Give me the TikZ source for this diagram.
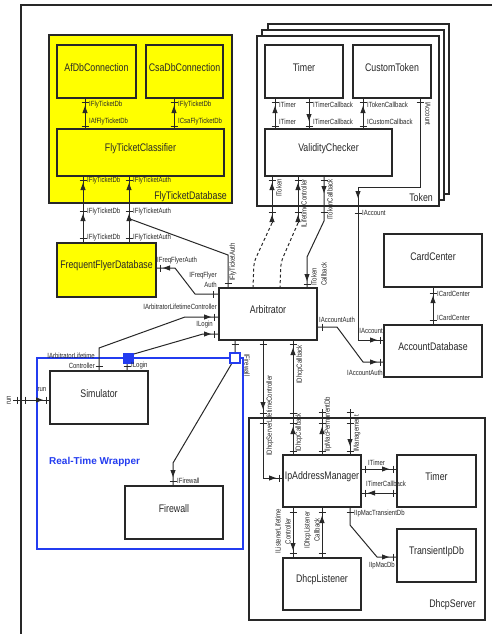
\documentclass[tikz,border=0pt]{standalone}
\usepackage{fontspec}
\setmainfont{Liberation Sans}
\newfontfamily\narrowf[FakeStretch=0.8]{Liberation Sans}
\usetikzlibrary{fit}
\definecolor{lc}{RGB}{40,40,40}
\definecolor{wblue}{RGB}{35,60,240}
\definecolor{yel}{RGB}{255,255,0}
\newcommand\tkv[2]{\draw[tk] (#1-3.5,#2) -- (#1+3.5,#2);}
\newcommand\tkh[2]{\draw[tk] (#1,#2-3.5) -- (#1,#2+3.5);}
\newcommand\arU[2]{\fill[lc] (#1,#2) -- (#1-2.6,#2+7) -- (#1+2.6,#2+7) -- cycle;}
\newcommand\arD[2]{\fill[lc] (#1,#2) -- (#1-2.6,#2-7) -- (#1+2.6,#2-7) -- cycle;}
\newcommand\arR[2]{\fill[lc] (#1,#2) -- (#1-7,#2-2.6) -- (#1-7,#2+2.6) -- cycle;}
\newcommand\arL[2]{\fill[lc] (#1,#2) -- (#1+7,#2-2.6) -- (#1+7,#2+2.6) -- cycle;}
\begin{document}
\begin{tikzpicture}[x=1pt,y=-1pt,
 box/.style={draw=lc,line width=1.35pt,inner sep=0pt,font=\narrowf\fontsize{11}{13}\selectfont,text=lc},
 con/.style={draw=lc,line width=1pt},
 tk/.style={draw=lc,line width=1pt},
 lab/.style={inner sep=0pt,font=\narrowf\fontsize{7.5}{10}\selectfont,text=lc},
 dsh/.style={con,dash pattern=on 3pt off 2.5pt},
 big/.style={inner sep=0pt,font=\narrowf\fontsize{11}{13}\selectfont,text=lc}]
\useasboundingbox (0,0) rectangle (492,634);
\clip (0,0) rectangle (492,634);
\fill[white] (0,0) rectangle (492,634);
\node[draw=lc,line width=1.3pt,inner sep=0pt,fit={(21,5)(530,660)}] (sys) {};

% ---------- FlyTicketDatabase ----------
\node[box,fill=yel,fit={(49,35)(232,203)}] (ftdb) {};
\node[big,anchor=base east] (ftdbl) at (227,199) {FlyTicketDatabase};
\node[box,fill=yel,fit={(57,45)(136,98)}] (afdb) {AfDbConnection};
\node[box,fill=yel,fit={(146,45)(223,98)}] (csadb) {CsaDbConnection};
\node[box,fill=yel,fit={(57,129)(224,176)}] (ftc) {FlyTicketClassifier};
\node[box,fill=yel,fit={(57,243)(156,297)}] (ffd) {FrequentFlyerDatabase};

% ---------- Token stack ----------
\node[box,fill=white,fit={(268,24)(449,194)}] (tok3) {};
\node[box,fill=white,fit={(262,30)(444,200)}] (tok2) {};
\node[box,fill=white,fit={(257,36)(439,206)}] (tok) {};
\node[big,anchor=base east] (tokl) at (433,201) {Token};
\node[box,fit={(265,45)(343,98)}] (timer) {Timer};
\node[box,fit={(353,45)(431,98)}] (ctok) {CustomToken};
\node[box,fit={(265,129)(392,176)}] (vc) {ValidityChecker};

% ---------- middle ----------
\node[box,fit={(219,288)(317,340)}] (arb) {Arbitrator};
\node[box,fit={(384,234)(482,287)}] (cc) {CardCenter};
\node[box,fit={(384,325)(482,377)}] (adb) {AccountDatabase};

% ---------- Real-Time Wrapper ----------
\node[draw=wblue,line width=1.3pt,inner sep=0pt,fit={(37,358)(243,549)}] (rtw) {};
\node[inner sep=0pt,text=wblue,font=\bfseries\fontsize{10}{12}\selectfont,anchor=base west] (rtwl) at (49,464.5) {Real-Time Wrapper};
\node[box,fit={(50,371)(148,424)}] (sim) {Simulator};
\node[box,fit={(125,486)(223,539)}] (fw) {Firewall};

% ---------- DhcpServer ----------
\node[box,fit={(249,418)(485,620)}] (dhs) {};
\node[big,anchor=base east] (dhsl) at (476,607) {DhcpServer};
\node[box,fit={(283,455)(361,507)}] (ipam) {IpAddressManager};
\node[box,fit={(397,455)(476,507)}] (tim2) {Timer};
\node[box,fit={(397,529)(476,582)}] (tip) {TransientIpDb};
\node[box,fit={(283,558)(361,610)}] (dl) {DhcpListener};

% ---------- connectors: FlyTicketDatabase ----------
\draw[con] (85,0 |- afdb.south) -- (85,0 |- ftc.north);
\tkv{85}{102}\tkv{85}{126}\arU{85}{106}
\draw[con] (174,0 |- csadb.south) -- (174,0 |- ftc.north);
\tkv{174}{102}\tkv{174}{126}\arU{174}{106}
\draw[con] (83,0 |- ftc.south) -- (83,0 |- ffd.north);
\tkv{83}{180}\tkv{83}{211}\tkv{83}{238}\arU{83}{183}\arU{83}{214}
\draw[con] (129,0 |- ftc.south) -- (129,0 |- ffd.north);
\tkv{129}{180}\tkv{129}{211}\tkv{129}{238}\arU{129}{183}\arU{129}{214}
\draw[con] (228,0 |- arb.north) -- (228,255) -- (130,219);
\tkv{228}{283}
\draw[con] (arb.west |- 0,294) -- (195,294) -- (175,268) -- (ffd.east |- 0,268);
\tkh{213}{294}\tkh{160}{268}\arL{163}{268}

% ---------- Simulator to Arbitrator ----------
\draw[con] (99,0 |- sim.north) -- (99,348) -- (185,317) -- (arb.west |- 0,317);
\tkv{99}{366}\tkh{214}{317}\arR{211}{317}
\draw[con] (127,0 |- sim.north) -- (127,356) -- (203,334) -- (arb.west |- 0,334);
\tkv{127}{366}\tkh{214}{334}\arR{211}{334}
\coordinate (runin) at (13,400);
\draw[con] (runin) -- (sim.west |- 0,400);
\tkh{17}{400}\tkh{25}{400}\arR{43}{400}\tkh{46}{400}

% ---------- Token connectors ----------
\draw[con] (275,0 |- timer.south) -- (275,0 |- vc.north);
\tkv{275}{102}\tkv{275}{126}\arU{275}{106}
\draw[con] (309,0 |- timer.south) -- (309,0 |- vc.north);
\tkv{309}{102}\tkv{309}{126}\arD{309}{121}
\draw[con] (363,0 |- ctok.south) -- (363,0 |- vc.north);
\tkv{363}{102}\tkv{363}{126}\arU{363}{106}
\draw[con] (420,0 |- ctok.south) -- (420,187) -- (358,187) -- (358,340) -- (adb.west |- 0,340);
\tkv{420}{102}\arD{358}{198}\tkv{358}{213}\tkh{380}{340}\arR{377}{340}

\draw[con] (272,0 |- vc.south) -- (272,223);
\tkv{272}{180}\arU{272}{183}\tkv{272}{212}\arU{272}{215}
\draw[dsh,rounded corners=5pt] (272,223) -- (254,262) -- (253,0 |- arb.north);
\draw[con] (298,0 |- vc.south) -- (298,223);
\tkv{298}{180}\arU{298}{183}\tkv{298}{212}\arU{298}{215}
\draw[dsh,rounded corners=5pt] (298,223) -- (281,262) -- (280,0 |- arb.north);
\draw[con] (324,0 |- vc.south) -- (324,221) -- (307,257) -- (307,0 |- arb.north);
\tkv{324}{180}\arD{324}{193}\tkv{324}{212}\arD{307}{281}\tkv{307}{284}

% ---------- Arbitrator right ----------
\draw[con] (arb.east |- 0,327) -- (337,327) -- (363,362) -- (adb.west |- 0,362);
\tkh{322}{327}\tkh{380}{362}\arR{377}{362}
\draw[con] (433,0 |- cc.south) -- (433,0 |- adb.north);
\tkv{433}{293}\tkv{433}{320}\arU{433}{296}

% ---------- Arbitrator bottom ----------
\draw[con] (235,0 |- arb.south) -- (235,358) -- (173,463) -- (173,0 |- fw.north);
\tkv{235}{344}\arD{173}{477}\tkv{173}{481}
\draw[con] (263,0 |- arb.south) -- (263,478) -- (ipam.west |- 0,478);
\tkv{263}{344}\arD{263}{409}\tkv{263}{413}\tkv{263}{423}\arR{276}{478}\tkh{279}{478}
\draw[con] (293,0 |- arb.south) -- (293,0 |- ipam.north);
\tkv{293}{344}\arU{293}{348}\tkv{293}{413}\tkv{293}{423}\arU{293}{427}\tkv{293}{451}
\coordinate (pmdb) at (322,409);
\coordinate (mgmt) at (350,409);
\draw[con] (pmdb) -- (322,0 |- ipam.north);
\tkv{322}{412}\tkv{322}{423}\arU{322}{427}\tkv{322}{451}
\draw[con] (mgmt) -- (350,0 |- ipam.north);
\tkv{350}{412}\tkv{350}{423}\arD{350}{446}\tkv{350}{451}

% ---------- DhcpServer inner ----------
\draw[con] (ipam.east |- 0,469) -- (tim2.west |- 0,469);
\tkh{365}{469}\tkh{393}{469}\arR{389}{469}
\draw[con] (ipam.east |- 0,493) -- (tim2.west |- 0,493);
\tkh{365}{493}\tkh{393}{493}\arL{368}{493}
\draw[con] (350,0 |- ipam.south) -- (350,525) -- (377,557) -- (tip.west |- 0,557);
\tkv{350}{512}\arR{389}{557}\tkh{393}{557}
\draw[con] (293,0 |- ipam.south) -- (293,0 |- dl.north);
\tkv{293}{512}\tkv{293}{553}\arD{293}{550}
\draw[con] (322,0 |- ipam.south) -- (322,0 |- dl.north);
\tkv{322}{512}\tkv{322}{553}\arU{322}{516}

% ---------- wrapper port squares ----------
\node[draw=wblue,fill=wblue,line width=1pt,inner sep=0pt,minimum size=10pt] (sqlogin) at (128.5,358) {};
\node[draw=wblue,fill=white,line width=1.4pt,inner sep=0pt,minimum size=10pt] (sqfw) at (235,358) {};

% ---------- labels ----------
\node[lab,anchor=west] (la1) at (89,105) {IFlyTicketDb};
\node[lab,anchor=west] (la2) at (89,122) {IAfFlyTicketDb};
\node[lab,anchor=west] (la3) at (178,105) {IFlyTicketDb};
\node[lab,anchor=west] (la4) at (178,122) {ICsaFlyTicketDb};
\node[lab,anchor=west] (la5) at (87,181) {IFlyTicketDb};
\node[lab,anchor=west] (la6) at (133,181) {IFlyTicketAuth};
\node[lab,anchor=west] (la7) at (87,212) {IFlyTicketDb};
\node[lab,anchor=west] (la8) at (133,212) {IFlyTicketAuth};
\node[lab,anchor=west] (la9) at (87,238) {IFlyTicketDb};
\node[lab,anchor=west] (la10) at (133,238) {IFlyTicketAuth};
\node[lab,anchor=west,rotate=90] (la11) at (233,281) {IFlyTicketAuth};
\node[lab,anchor=west] (la12) at (157,261) {IFreqFlyerAuth};
\node[lab,anchor=east,align=right] (la13) at (217,280) {IFreqFlyer\\Auth};
\node[lab,anchor=east] (la14) at (217,307) {IArbitratorLifetimeController};
\node[lab,anchor=east] (la15) at (213,325) {ILogin};
\node[lab,anchor=east,align=right] (la16) at (95,361) {IArbitratorLifetime\\Controller};
\node[lab,anchor=west] (la17) at (131,366) {ILogin};
\node[lab] (la18) at (42,390) {run};
\node[lab,rotate=90] (la19) at (9,400) {run};

\node[lab,anchor=west] (lb1) at (279,105) {ITimer};
\node[lab,anchor=west] (lb2) at (279,122) {ITimer};
\node[lab,anchor=west] (lb3) at (313,105) {ITimerCallback};
\node[lab,anchor=west] (lb4) at (313,122) {ITimerCallback};
\node[lab,anchor=west] (lb5) at (367,105) {ITokenCallback};
\node[lab,anchor=west] (lb6) at (367,122) {ICustomCallback};
\node[lab,anchor=west,rotate=-90] (lb7) at (428,102) {IAccount};
\node[lab,anchor=east,rotate=90] (lb8) at (279,179) {IToken};
\node[lab,anchor=east,rotate=90] (lb9) at (304,179) {ILifetimeController};
\node[lab,anchor=east,rotate=90] (lb10) at (330,179) {ITokenCallback};
\node[lab,anchor=west] (lb11) at (362,213) {IAccount};
\node[lab,anchor=north west,rotate=90,align=left] (lb12) at (311,286) {IToken\\Callback};
\node[lab,anchor=west] (lb13) at (319,320) {IAccountAuth};
\node[lab,anchor=east] (lb14) at (383,373) {IAccountAuth};
\node[lab,anchor=east] (lb15) at (383,331) {IAccount};
\node[lab,anchor=west] (lb16) at (437,294) {ICardCenter};
\node[lab,anchor=west] (lb17) at (437,318) {ICardCenter};

\node[lab,anchor=west,rotate=-90] (lc1) at (247,354) {IFirewall};
\node[lab,anchor=west] (lc2) at (177,481) {IFirewall};
\node[lab,anchor=west,rotate=90] (lc3) at (270,456) {IDhcpServerLifetimeController};
\node[lab,anchor=east,rotate=90] (lc4) at (300,345) {IDhcpCallback};
\node[lab,anchor=west,rotate=90] (lc5) at (299,452) {IDhcpCallback};
\node[lab,anchor=west,rotate=90] (lc6) at (328,452) {IIpMacPermanentDb};
\node[lab,anchor=west,rotate=90] (lc7) at (357,452) {IManagement};
\node[lab,anchor=west] (lc8) at (368,463) {ITimer};
\node[lab,anchor=west] (lc9) at (366,484) {ITimerCallback};
\node[lab,anchor=west] (lc10) at (354,514) {IIpMacTransientDb};
\node[lab,anchor=east] (lc11) at (395,566) {IIpMacDb};
\node[lab,rotate=90,align=center] (lc12) at (283,531) {IListenerLifetime\\Controller};
\node[lab,rotate=90,align=center] (lc13) at (312,530) {IDhcpListener\\Callback};
\end{tikzpicture}
\end{document}
